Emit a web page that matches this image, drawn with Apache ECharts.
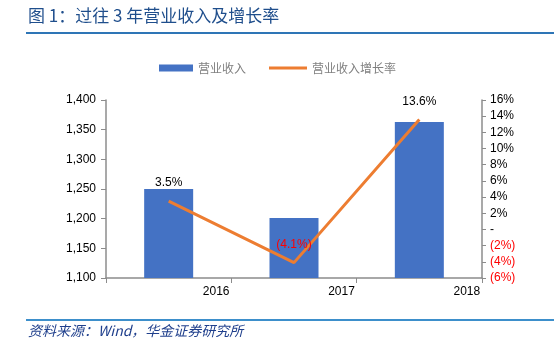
<!DOCTYPE html>
<html><head><meta charset="utf-8">
<script src="https://cdn.jsdelivr.net/npm/echarts@6/dist/echarts.min.js"></script>
<style>html,body{margin:0;padding:0;background:#fff}#c{width:554px;height:356px}</style>
</head><body><div id="c"></div>
<script>
const categories = ['2016', '2017', '2018'];
const revenue = [1250, 1201, 1363];
const growth = [3.5, -4.1, 13.6];
const titleText = '图 1：过往 3 年营业收入及增长率';
const sourceText = '资料来源：Wind，华金证券研究所';

function pctFmt(v) {
  if (Math.abs(v) < 1e-9) return '-';
  if (v < 0) return '(' + Math.abs(v) + '%)';
  return v + '%';
}
const chart = echarts.init(document.getElementById('c'));
chart.setOption({
  animation: false,
  backgroundColor: '#fff',
  grid: {left: 106, right: 72, top: 100, bottom: 78},
  legend: [
    {data: [{name: '营业收入', icon: 'rect'}], left: 154, top: 57, itemWidth: 34, itemHeight: 7, itemGap: 6,
     textStyle: {color: '#808080', fontSize: 12, fontFamily: 'Noto Sans CJK SC'}},
    {data: [{name: '营业收入增长率', icon: 'rect'}], left: 264, top: 57, itemWidth: 38, itemHeight: 3, itemGap: 6,
     textStyle: {color: '#808080', fontSize: 12, fontFamily: 'Noto Sans CJK SC'}}
  ],
  xAxis: {
    type: 'category', data: categories, boundaryGap: true,
    axisLine: {onZero: false, lineStyle: {color: '#8c8c8c', width: 1.5}},
    axisTick: {show: true, alignWithLabel: false, length: 5, lineStyle: {color: '#8c8c8c'}},
    axisLabel: {color: '#000', fontSize: 12, fontFamily: 'Liberation Sans', margin: 8, padding: [0, 0, 0, 95]}
  },
  yAxis: [
    {type: 'value', min: 1100, max: 1400, interval: 50,
     axisLine: {show: true, lineStyle: {color: '#8c8c8c', width: 1.5}},
     axisTick: {show: true, length: 5, lineStyle: {color: '#8c8c8c'}},
     splitLine: {show: false},
     axisLabel: {color: '#000', fontSize: 12, fontFamily: 'Liberation Sans', margin: 10,
       formatter: v => v.toLocaleString('en-US')}},
    {type: 'value', min: -6, max: 16, interval: 2, position: 'right',
     axisLine: {show: true, lineStyle: {color: '#8c8c8c', width: 1.5}},
     axisTick: {show: true, length: 4, lineStyle: {color: '#8c8c8c'}},
     splitLine: {show: false},
     axisLabel: {fontSize: 12, fontFamily: 'Liberation Sans', margin: 8,
       formatter: v => pctFmt(v),
       color: v => (v < 0 ? '#ff0000' : '#000')}}
  ],
  series: [
    {name: '营业收入', type: 'bar', data: revenue, barWidth: 49, yAxisIndex: 0,
     itemStyle: {color: '#4472C4'}},
    {name: '营业收入增长率', type: 'line', yAxisIndex: 1,
     data: growth.map(v => ({value: v, label: {color: v < 0 ? '#ff0000' : '#000'}})),
     symbol: 'circle', symbolSize: 0.1, showSymbol: true,
     lineStyle: {color: '#ED7D31', width: 3}, itemStyle: {color: '#ED7D31'},
     label: {show: true, position: 'top', distance: 12, fontSize: 12, fontFamily: 'Liberation Sans',
       formatter: p => pctFmt(p.value)},
     labelLayout: {hideOverlap: false}
    }
  ],
  graphic: [
    {type: 'text', left: 28, top: 7, style: {text: titleText, fill: '#1F4E8C', fontSize: 17, fontFamily: 'Noto Sans CJK SC'}},
    {type: 'rect', shape: {x: 26, y: 32, width: 528, height: 2}, style: {fill: '#2E75B6'}},
    {type: 'rect', shape: {x: 26, y: 319, width: 528, height: 2}, style: {fill: '#3D8FCB'}},
    {type: 'text', left: 28, top: 324, style: {text: sourceText, fill: '#1F3F8C', fontSize: 14, fontStyle: 'italic', fontFamily: 'Noto Sans CJK SC'}}
  ]
});
</script></body></html>
